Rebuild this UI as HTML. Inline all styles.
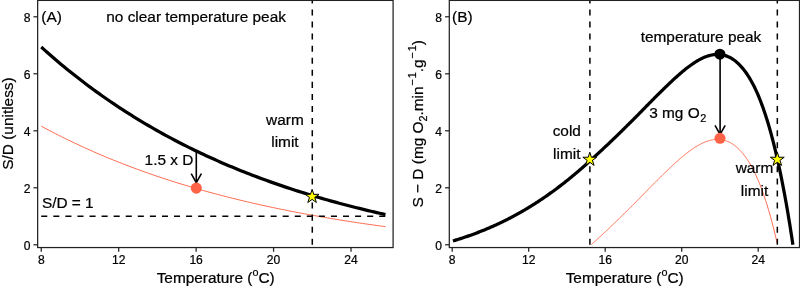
<!DOCTYPE html>
<html><head><meta charset="utf-8"><title>Figure</title>
<style>html,body{margin:0;padding:0;background:#fff;}svg{display:block;will-change:transform;}text{stroke:#000;stroke-width:0.22px;}</style>
</head><body>
<svg width="800" height="291" viewBox="0 0 800 291" font-family="'Liberation Sans', sans-serif" fill="#000">
<rect x="0" y="0" width="800" height="291" fill="#fff"/>
<g>
<path d="M41.25,126.16 L44.14,127.71 L47.04,129.26 L49.93,130.78 L52.82,132.28 L55.71,133.77 L58.61,135.24 L61.50,136.69 L64.39,138.13 L67.28,139.55 L70.18,140.95 L73.07,142.34 L75.96,143.71 L78.85,145.06 L81.75,146.40 L84.64,147.72 L87.53,149.03 L90.42,150.32 L93.32,151.60 L96.21,152.86 L99.10,154.11 L101.99,155.34 L104.89,156.56 L107.78,157.76 L110.67,158.95 L113.57,160.13 L116.46,161.29 L119.35,162.44 L122.24,163.57 L125.14,164.70 L128.03,165.80 L130.92,166.90 L133.81,167.98 L136.71,169.05 L139.60,170.11 L142.49,171.16 L145.38,172.19 L148.28,173.21 L151.17,174.22 L154.06,175.22 L156.95,176.21 L159.85,177.18 L162.74,178.14 L165.63,179.10 L168.52,180.04 L171.42,180.97 L174.31,181.89 L177.20,182.79 L180.10,183.69 L182.99,184.58 L185.88,185.45 L188.77,186.32 L191.67,187.18 L194.56,188.02 L197.45,188.86 L200.34,189.69 L203.24,190.50 L206.13,191.31 L209.02,192.11 L211.91,192.90 L214.81,193.68 L217.70,194.45 L220.59,195.21 L223.48,195.96 L226.38,196.71 L229.27,197.44 L232.16,198.17 L235.05,198.89 L237.95,199.60 L240.84,200.30 L243.73,200.99 L246.63,201.68 L249.52,202.35 L252.41,203.02 L255.30,203.68 L258.20,204.34 L261.09,204.98 L263.98,205.62 L266.87,206.25 L269.77,206.88 L272.66,207.49 L275.55,208.10 L278.44,208.70 L281.34,209.30 L284.23,209.89 L287.12,210.47 L290.01,211.04 L292.91,211.61 L295.80,212.17 L298.69,212.73 L301.59,213.27 L304.48,213.82 L307.37,214.35 L310.26,214.88 L313.16,215.40 L316.05,215.92 L318.94,216.43 L321.83,216.93 L324.73,217.43 L327.62,217.93 L330.51,218.41 L333.40,218.90 L336.30,219.37 L339.19,219.84 L342.08,220.31 L344.97,220.77 L347.87,221.22 L350.76,221.67 L353.65,222.11 L356.54,222.55 L359.44,222.99 L362.33,223.41 L365.22,223.84 L368.12,224.25 L371.01,224.67 L373.90,225.08 L376.79,225.48 L379.69,225.88 L382.58,226.27 L385.47,226.66" stroke="#ff6347" stroke-width="0.95" fill="none"/>
<path d="M41.25,216.29 L385.47,216.29" stroke="#000" stroke-width="1.51" stroke-dasharray="6.035 6.035" fill="none"/>
<path d="M312.29,244.79 L312.29,-5" stroke="#000" stroke-width="1.51" stroke-dasharray="6.035 6.035" fill="none"/>
<path d="M196.3,152 L196.3,182.6" stroke="#000" stroke-width="1.6" fill="none"/><path d="M191.20000000000002,173.6 L196.3,182.6 L201.4,173.6" stroke="#000" stroke-width="1.6" fill="none" stroke-linejoin="miter" stroke-linecap="butt"/>
<path d="M41.25,47.07 L44.14,49.66 L47.04,52.23 L49.93,54.77 L52.82,57.28 L55.71,59.76 L58.61,62.21 L61.50,64.63 L64.39,67.02 L67.28,69.39 L70.18,71.73 L73.07,74.04 L75.96,76.32 L78.85,78.58 L81.75,80.81 L84.64,83.01 L87.53,85.19 L90.42,87.34 L93.32,89.47 L96.21,91.57 L99.10,93.65 L101.99,95.71 L104.89,97.74 L107.78,99.74 L110.67,101.73 L113.57,103.69 L116.46,105.62 L119.35,107.54 L122.24,109.43 L125.14,111.30 L128.03,113.15 L130.92,114.97 L133.81,116.78 L136.71,118.56 L139.60,120.33 L142.49,122.07 L145.38,123.79 L148.28,125.50 L151.17,127.18 L154.06,128.84 L156.95,130.48 L159.85,132.11 L162.74,133.71 L165.63,135.30 L168.52,136.87 L171.42,138.42 L174.31,139.95 L177.20,141.46 L180.10,142.96 L182.99,144.44 L185.88,145.90 L188.77,147.34 L191.67,148.77 L194.56,150.18 L197.45,151.57 L200.34,152.95 L203.24,154.31 L206.13,155.66 L209.02,156.99 L211.91,158.30 L214.81,159.60 L217.70,160.89 L220.59,162.16 L223.48,163.41 L226.38,164.65 L229.27,165.88 L232.16,167.09 L235.05,168.28 L237.95,169.47 L240.84,170.64 L243.73,171.79 L246.63,172.93 L249.52,174.06 L252.41,175.18 L255.30,176.28 L258.20,177.37 L261.09,178.45 L263.98,179.51 L266.87,180.56 L269.77,181.60 L272.66,182.63 L275.55,183.64 L278.44,184.65 L281.34,185.64 L284.23,186.62 L287.12,187.59 L290.01,188.54 L292.91,189.49 L295.80,190.43 L298.69,191.35 L301.59,192.26 L304.48,193.17 L307.37,194.06 L310.26,194.94 L313.16,195.81 L316.05,196.67 L318.94,197.52 L321.83,198.36 L324.73,199.20 L327.62,200.02 L330.51,200.83 L333.40,201.63 L336.30,202.43 L339.19,203.21 L342.08,203.99 L344.97,204.75 L347.87,205.51 L350.76,206.26 L353.65,207.00 L356.54,207.73 L359.44,208.45 L362.33,209.16 L365.22,209.87 L368.12,210.56 L371.01,211.25 L373.90,211.93 L376.79,212.61 L379.69,213.27 L382.58,213.93 L385.47,214.58" stroke="#000" stroke-width="3.25" fill="none"/>
<circle cx="196.3" cy="188.1" r="5.55" fill="#ff6347"/>
<polygon points="312.10,189.30 313.74,194.34 319.04,194.34 314.75,197.46 316.39,202.51 312.10,199.39 307.81,202.51 309.45,197.46 305.16,194.34 310.46,194.34" fill="#ffff00" stroke="#000" stroke-width="1.0" stroke-linejoin="miter"/>
<text x="41.25" y="22.3" font-size="15.4">(A)</text>
<text x="196.1" y="21.9" font-size="15.4" text-anchor="middle">no clear temperature peak</text>
<text x="284.9" y="124.7" font-size="15.4" text-anchor="middle">warm</text>
<text x="284.9" y="147" font-size="15.4" text-anchor="middle">limit</text>
<text x="169" y="165" font-size="15.4" text-anchor="middle">1.5 x D</text>
<text x="41.9" y="207.6" font-size="15.4">S/D = 1</text>
</g>
<g>
<path d="M591.26,244.73 L591.94,244.11 L592.62,243.49 L593.30,242.87 L593.98,242.25 L594.67,241.62 L595.35,241.00 L596.03,240.37 L596.71,239.75 L597.39,239.12 L598.07,238.49 L598.75,237.87 L599.43,237.24 L600.12,236.61 L600.80,235.98 L601.48,235.35 L602.16,234.71 L602.84,234.08 L603.52,233.44 L604.20,232.81 L604.88,232.17 L605.57,231.53 L606.25,230.89 L606.93,230.25 L607.61,229.61 L608.29,228.97 L608.97,228.32 L609.65,227.68 L610.33,227.03 L611.02,226.38 L611.70,225.73 L612.38,225.08 L613.06,224.43 L613.74,223.77 L614.42,223.12 L615.10,222.46 L615.78,221.80 L616.47,221.14 L617.15,220.48 L617.83,219.81 L618.51,219.15 L619.19,218.48 L619.87,217.81 L620.55,217.14 L621.23,216.47 L621.92,215.80 L622.60,215.13 L623.28,214.47 L623.96,213.80 L624.64,213.13 L625.32,212.46 L626.00,211.79 L626.68,211.12 L627.37,210.45 L628.05,209.78 L628.73,209.11 L629.41,208.44 L630.09,207.76 L630.77,207.09 L631.45,206.42 L632.13,205.74 L632.82,205.06 L633.50,204.38 L634.18,203.70 L634.86,203.02 L635.54,202.33 L636.22,201.65 L636.90,200.96 L637.58,200.27 L638.27,199.58 L638.95,198.88 L639.63,198.19 L640.31,197.49 L640.99,196.79 L641.67,196.09 L642.35,195.39 L643.03,194.69 L643.72,193.99 L644.40,193.29 L645.08,192.60 L645.76,191.90 L646.44,191.20 L647.12,190.51 L647.80,189.81 L648.48,189.11 L649.17,188.42 L649.85,187.73 L650.53,187.04 L651.21,186.34 L651.89,185.65 L652.57,184.96 L653.25,184.28 L653.93,183.59 L654.62,182.90 L655.30,182.22 L655.98,181.54 L656.66,180.85 L657.34,180.17 L658.02,179.50 L658.70,178.82 L659.38,178.14 L660.07,177.47 L660.75,176.80 L661.43,176.13 L662.11,175.47 L662.79,174.80 L663.47,174.14 L664.15,173.48 L664.83,172.82 L665.52,172.17 L666.20,171.51 L666.88,170.86 L667.56,170.21 L668.24,169.56 L668.92,168.91 L669.60,168.26 L670.28,167.61 L670.97,166.97 L671.65,166.33 L672.33,165.69 L673.01,165.06 L673.69,164.43 L674.37,163.80 L675.05,163.17 L675.73,162.55 L676.42,161.93 L677.10,161.32 L677.78,160.71 L678.46,160.10 L679.14,159.50 L679.82,158.91 L680.50,158.31 L681.18,157.73 L681.87,157.15 L682.55,156.58 L683.23,156.01 L683.91,155.45 L684.59,154.89 L685.27,154.34 L685.95,153.80 L686.63,153.26 L687.32,152.74 L688.00,152.22 L688.68,151.71 L689.36,151.20 L690.04,150.71 L690.72,150.22 L691.40,149.74 L692.08,149.26 L692.77,148.79 L693.45,148.33 L694.13,147.88 L694.81,147.43 L695.49,147.00 L696.17,146.57 L696.85,146.15 L697.53,145.74 L698.22,145.35 L698.90,144.96 L699.58,144.58 L700.26,144.22 L700.94,143.86 L701.62,143.52 L702.30,143.19 L702.98,142.88 L703.67,142.57 L704.35,142.29 L705.03,142.01 L705.71,141.75 L706.39,141.50 L707.07,141.26 L707.75,141.04 L708.43,140.83 L709.12,140.63 L709.80,140.45 L710.48,140.28 L711.16,140.12 L711.84,139.98 L712.52,139.85 L713.20,139.74 L713.88,139.64 L714.57,139.56 L715.25,139.49 L715.93,139.45 L716.61,139.41 L717.29,139.40 L717.97,139.40 L718.65,139.42 L719.33,139.46 L720.02,139.51 L720.70,139.59 L721.38,139.68 L722.06,139.79 L722.74,139.92 L723.42,140.07 L724.10,140.24 L724.78,140.43 L725.47,140.63 L726.15,140.86 L726.83,141.11 L727.51,141.38 L728.19,141.67 L728.87,141.98 L729.55,142.31 L730.23,142.67 L730.92,143.04 L731.60,143.44 L732.28,143.87 L732.96,144.31 L733.64,144.78 L734.32,145.27 L735.00,145.79 L735.68,146.33 L736.37,146.89 L737.05,147.48 L737.73,148.10 L738.41,148.74 L739.09,149.40 L739.77,150.10 L740.45,150.82 L741.13,151.56 L741.82,152.33 L742.50,153.13 L743.18,153.95 L743.86,154.81 L744.54,155.69 L745.22,156.59 L745.90,157.53 L746.58,158.50 L747.27,159.50 L747.95,160.53 L748.63,161.59 L749.31,162.69 L749.99,163.82 L750.67,164.98 L751.35,166.18 L752.03,167.42 L752.72,168.69 L753.40,169.99 L754.08,171.34 L754.76,172.72 L755.44,174.14 L756.12,175.60 L756.80,177.11 L757.49,178.65 L758.17,180.24 L758.85,181.86 L759.53,183.54 L760.21,185.25 L760.89,187.01 L761.57,188.81 L762.25,190.66 L762.94,192.55 L763.62,194.48 L764.30,196.46 L764.98,198.49 L765.66,200.56 L766.34,202.68 L767.02,204.84 L767.70,207.06 L768.39,209.32 L769.07,211.63 L769.75,214.00 L770.43,216.41 L771.11,218.88 L771.79,221.40 L772.47,223.97 L773.15,226.60 L773.84,229.28 L774.52,232.02 L775.20,234.81 L775.88,237.66 L776.56,240.57 L777.24,243.53" stroke="#ff6347" stroke-width="0.95" fill="none"/>
<path d="M589.90,244.79 L589.90,-5" stroke="#000" stroke-width="1.51" stroke-dasharray="6.035 6.035" fill="none"/>
<path d="M777.33,244.79 L777.33,-5" stroke="#000" stroke-width="1.51" stroke-dasharray="6.035 6.035" fill="none"/>
<path d="M720.1,54.3 L720.1,134.4" stroke="#000" stroke-width="1.6" fill="none"/><path d="M715.0,125.4 L720.1,134.4 L725.2,125.4" stroke="#000" stroke-width="1.6" fill="none" stroke-linejoin="miter" stroke-linecap="butt"/>
<path d="M452.96,240.94 L453.65,240.74 L454.33,240.54 L455.01,240.33 L455.69,240.12 L456.37,239.91 L457.05,239.70 L457.73,239.49 L458.42,239.28 L459.10,239.06 L459.78,238.85 L460.46,238.63 L461.14,238.41 L461.82,238.19 L462.50,237.97 L463.18,237.74 L463.87,237.52 L464.55,237.29 L465.23,237.06 L465.91,236.83 L466.59,236.60 L467.27,236.36 L467.95,236.13 L468.63,235.89 L469.32,235.65 L470.00,235.41 L470.68,235.17 L471.36,234.92 L472.04,234.67 L472.72,234.43 L473.40,234.18 L474.08,233.93 L474.77,233.67 L475.45,233.42 L476.13,233.16 L476.81,232.90 L477.49,232.64 L478.17,232.38 L478.85,232.12 L479.53,231.85 L480.22,231.59 L480.90,231.32 L481.58,231.05 L482.26,230.77 L482.94,230.50 L483.62,230.22 L484.30,229.95 L484.98,229.67 L485.67,229.38 L486.35,229.10 L487.03,228.81 L487.71,228.53 L488.39,228.24 L489.07,227.95 L489.75,227.65 L490.43,227.36 L491.12,227.06 L491.80,226.76 L492.48,226.46 L493.16,226.16 L493.84,225.85 L494.52,225.55 L495.20,225.24 L495.88,224.93 L496.57,224.62 L497.25,224.30 L497.93,223.99 L498.61,223.67 L499.29,223.35 L499.97,223.02 L500.65,222.70 L501.33,222.37 L502.02,222.05 L502.70,221.71 L503.38,221.38 L504.06,221.05 L504.74,220.71 L505.42,220.37 L506.10,220.03 L506.78,219.69 L507.47,219.34 L508.15,219.00 L508.83,218.65 L509.51,218.30 L510.19,217.94 L510.87,217.59 L511.55,217.23 L512.23,216.87 L512.92,216.51 L513.60,216.14 L514.28,215.78 L514.96,215.41 L515.64,215.04 L516.32,214.67 L517.00,214.29 L517.68,213.92 L518.37,213.54 L519.05,213.16 L519.73,212.77 L520.41,212.39 L521.09,212.00 L521.77,211.61 L522.45,211.22 L523.13,210.82 L523.82,210.43 L524.50,210.03 L525.18,209.63 L525.86,209.22 L526.54,208.82 L527.22,208.41 L527.90,208.00 L528.58,207.59 L529.27,207.17 L529.95,206.75 L530.63,206.34 L531.31,205.91 L531.99,205.49 L532.67,205.06 L533.35,204.64 L534.03,204.21 L534.72,203.77 L535.40,203.34 L536.08,202.90 L536.76,202.46 L537.44,202.02 L538.12,201.57 L538.80,201.13 L539.48,200.68 L540.17,200.23 L540.85,199.77 L541.53,199.32 L542.21,198.86 L542.89,198.40 L543.57,197.94 L544.25,197.47 L544.93,197.00 L545.62,196.53 L546.30,196.06 L546.98,195.58 L547.66,195.11 L548.34,194.63 L549.02,194.15 L549.70,193.66 L550.38,193.18 L551.07,192.69 L551.75,192.20 L552.43,191.70 L553.11,191.21 L553.79,190.71 L554.47,190.21 L555.15,189.70 L555.83,189.20 L556.52,188.69 L557.20,188.18 L557.88,187.67 L558.56,187.15 L559.24,186.64 L559.92,186.12 L560.60,185.60 L561.28,185.07 L561.97,184.54 L562.65,184.02 L563.33,183.48 L564.01,182.95 L564.69,182.41 L565.37,181.88 L566.05,181.34 L566.73,180.79 L567.42,180.25 L568.10,179.70 L568.78,179.15 L569.46,178.60 L570.14,178.04 L570.82,177.49 L571.50,176.93 L572.18,176.37 L572.87,175.80 L573.55,175.24 L574.23,174.67 L574.91,174.10 L575.59,173.52 L576.27,172.95 L576.95,172.37 L577.63,171.79 L578.32,171.21 L579.00,170.62 L579.68,170.04 L580.36,169.45 L581.04,168.86 L581.72,168.26 L582.40,167.67 L583.08,167.07 L583.77,166.47 L584.45,165.87 L585.13,165.26 L585.81,164.66 L586.49,164.05 L587.17,163.44 L587.85,162.83 L588.53,162.21 L589.22,161.59 L589.90,160.98 L590.58,160.36 L591.26,159.73 L591.94,159.11 L592.62,158.49 L593.30,157.87 L593.98,157.25 L594.67,156.62 L595.35,156.00 L596.03,155.37 L596.71,154.75 L597.39,154.12 L598.07,153.49 L598.75,152.87 L599.43,152.24 L600.12,151.61 L600.80,150.98 L601.48,150.35 L602.16,149.71 L602.84,149.08 L603.52,148.44 L604.20,147.81 L604.88,147.17 L605.57,146.53 L606.25,145.89 L606.93,145.25 L607.61,144.61 L608.29,143.97 L608.97,143.32 L609.65,142.68 L610.33,142.03 L611.02,141.38 L611.70,140.73 L612.38,140.08 L613.06,139.43 L613.74,138.77 L614.42,138.12 L615.10,137.46 L615.78,136.80 L616.47,136.14 L617.15,135.48 L617.83,134.81 L618.51,134.15 L619.19,133.48 L619.87,132.81 L620.55,132.14 L621.23,131.47 L621.92,130.80 L622.60,130.13 L623.28,129.47 L623.96,128.80 L624.64,128.13 L625.32,127.46 L626.00,126.79 L626.68,126.12 L627.37,125.45 L628.05,124.78 L628.73,124.11 L629.41,123.44 L630.09,122.76 L630.77,122.09 L631.45,121.42 L632.13,120.74 L632.82,120.06 L633.50,119.38 L634.18,118.70 L634.86,118.02 L635.54,117.33 L636.22,116.65 L636.90,115.96 L637.58,115.27 L638.27,114.58 L638.95,113.88 L639.63,113.19 L640.31,112.49 L640.99,111.79 L641.67,111.09 L642.35,110.39 L643.03,109.69 L643.72,108.99 L644.40,108.29 L645.08,107.60 L645.76,106.90 L646.44,106.20 L647.12,105.51 L647.80,104.81 L648.48,104.11 L649.17,103.42 L649.85,102.73 L650.53,102.04 L651.21,101.34 L651.89,100.65 L652.57,99.96 L653.25,99.28 L653.93,98.59 L654.62,97.90 L655.30,97.22 L655.98,96.54 L656.66,95.85 L657.34,95.17 L658.02,94.50 L658.70,93.82 L659.38,93.14 L660.07,92.47 L660.75,91.80 L661.43,91.13 L662.11,90.47 L662.79,89.80 L663.47,89.14 L664.15,88.48 L664.83,87.82 L665.52,87.17 L666.20,86.51 L666.88,85.86 L667.56,85.21 L668.24,84.56 L668.92,83.91 L669.60,83.26 L670.28,82.61 L670.97,81.97 L671.65,81.33 L672.33,80.69 L673.01,80.06 L673.69,79.43 L674.37,78.80 L675.05,78.17 L675.73,77.55 L676.42,76.93 L677.10,76.32 L677.78,75.71 L678.46,75.10 L679.14,74.50 L679.82,73.91 L680.50,73.31 L681.18,72.73 L681.87,72.15 L682.55,71.58 L683.23,71.01 L683.91,70.45 L684.59,69.89 L685.27,69.34 L685.95,68.80 L686.63,68.26 L687.32,67.74 L688.00,67.22 L688.68,66.71 L689.36,66.20 L690.04,65.71 L690.72,65.22 L691.40,64.74 L692.08,64.26 L692.77,63.79 L693.45,63.33 L694.13,62.88 L694.81,62.43 L695.49,62.00 L696.17,61.57 L696.85,61.15 L697.53,60.74 L698.22,60.35 L698.90,59.96 L699.58,59.58 L700.26,59.22 L700.94,58.86 L701.62,58.52 L702.30,58.19 L702.98,57.88 L703.67,57.57 L704.35,57.29 L705.03,57.01 L705.71,56.75 L706.39,56.50 L707.07,56.26 L707.75,56.04 L708.43,55.83 L709.12,55.63 L709.80,55.45 L710.48,55.28 L711.16,55.12 L711.84,54.98 L712.52,54.85 L713.20,54.74 L713.88,54.64 L714.57,54.56 L715.25,54.49 L715.93,54.45 L716.61,54.41 L717.29,54.40 L717.97,54.40 L718.65,54.42 L719.33,54.46 L720.02,54.51 L720.70,54.59 L721.38,54.68 L722.06,54.79 L722.74,54.92 L723.42,55.07 L724.10,55.24 L724.78,55.43 L725.47,55.63 L726.15,55.86 L726.83,56.11 L727.51,56.38 L728.19,56.67 L728.87,56.98 L729.55,57.31 L730.23,57.67 L730.92,58.04 L731.60,58.44 L732.28,58.87 L732.96,59.31 L733.64,59.78 L734.32,60.27 L735.00,60.79 L735.68,61.33 L736.37,61.89 L737.05,62.48 L737.73,63.10 L738.41,63.74 L739.09,64.40 L739.77,65.10 L740.45,65.82 L741.13,66.56 L741.82,67.33 L742.50,68.13 L743.18,68.95 L743.86,69.81 L744.54,70.69 L745.22,71.59 L745.90,72.53 L746.58,73.50 L747.27,74.50 L747.95,75.53 L748.63,76.59 L749.31,77.69 L749.99,78.82 L750.67,79.98 L751.35,81.18 L752.03,82.42 L752.72,83.69 L753.40,84.99 L754.08,86.34 L754.76,87.72 L755.44,89.14 L756.12,90.60 L756.80,92.11 L757.49,93.65 L758.17,95.24 L758.85,96.86 L759.53,98.54 L760.21,100.25 L760.89,102.01 L761.57,103.81 L762.25,105.66 L762.94,107.55 L763.62,109.48 L764.30,111.46 L764.98,113.49 L765.66,115.56 L766.34,117.68 L767.02,119.84 L767.70,122.06 L768.39,124.32 L769.07,126.63 L769.75,129.00 L770.43,131.41 L771.11,133.88 L771.79,136.40 L772.47,138.97 L773.15,141.60 L773.84,144.28 L774.52,147.02 L775.20,149.81 L775.88,152.66 L776.56,155.57 L777.24,158.53 L777.92,161.56 L778.60,164.65 L779.29,167.79 L779.97,171.00 L780.65,174.27 L781.33,177.60 L782.01,181.00 L782.69,184.46 L783.37,187.99 L784.05,191.58 L784.74,195.25 L785.42,198.98 L786.10,202.78 L786.78,206.65 L787.46,210.59 L788.14,214.60 L788.82,218.69 L789.50,222.85 L790.19,227.08 L790.87,231.39 L791.55,235.78 L792.23,240.25 L792.91,244.79" stroke="#000" stroke-width="3.25" fill="none"/>
<circle cx="719.9" cy="54.2" r="5.55" fill="#000"/>
<circle cx="720" cy="138.3" r="5.55" fill="#ff6347"/>
<polygon points="589.80,152.20 591.44,157.24 596.74,157.24 592.45,160.36 594.09,165.41 589.80,162.29 585.51,165.41 587.15,160.36 582.86,157.24 588.16,157.24" fill="#ffff00" stroke="#000" stroke-width="1.0" stroke-linejoin="miter"/>
<polygon points="777.30,152.20 778.94,157.24 784.24,157.24 779.95,160.36 781.59,165.41 777.30,162.29 773.01,165.41 774.65,160.36 770.36,157.24 775.66,157.24" fill="#ffff00" stroke="#000" stroke-width="1.0" stroke-linejoin="miter"/>
<text x="452.0" y="22.3" font-size="15.4">(B)</text>
<text x="701" y="42.1" font-size="15.4" text-anchor="middle">temperature peak</text>
<text x="566.8" y="136.4" font-size="15.4" text-anchor="middle">cold</text>
<text x="566.8" y="158.5" font-size="15.4" text-anchor="middle">limit</text>
<text x="754.5" y="173.4" font-size="15.4" text-anchor="middle">warm</text>
<text x="754.5" y="195.5" font-size="15.4" text-anchor="middle">limit</text>
<text x="649.2" y="118.2" font-size="15.4">3 mg O<tspan font-size="10.8" dy="3.6" dx="0.6">2</tspan></text>
</g>
<rect x="37.65" y="0.4" width="355.45000000000005" height="247.15" fill="none" stroke="#222" stroke-width="1.25"/>
<path d="M41.25,247.55 L41.25,251.75" stroke="#222" stroke-width="1.25"/>
<text x="41.25" y="263.8" font-size="12.1" text-anchor="middle">8</text>
<path d="M118.69,247.55 L118.69,251.75" stroke="#222" stroke-width="1.25"/>
<text x="118.69" y="263.8" font-size="12.1" text-anchor="middle">12</text>
<path d="M196.13,247.55 L196.13,251.75" stroke="#222" stroke-width="1.25"/>
<text x="196.13" y="263.8" font-size="12.1" text-anchor="middle">16</text>
<path d="M273.57,247.55 L273.57,251.75" stroke="#222" stroke-width="1.25"/>
<text x="273.57" y="263.8" font-size="12.1" text-anchor="middle">20</text>
<path d="M351.01,247.55 L351.01,251.75" stroke="#222" stroke-width="1.25"/>
<text x="351.01" y="263.8" font-size="12.1" text-anchor="middle">24</text>
<path d="M37.65,244.79 L33.449999999999996,244.79" stroke="#222" stroke-width="1.25"/>
<text x="30.45" y="249.54" font-size="12.1" text-anchor="end">0</text>
<path d="M37.65,187.79 L33.449999999999996,187.79" stroke="#222" stroke-width="1.25"/>
<text x="30.45" y="192.54" font-size="12.1" text-anchor="end">2</text>
<path d="M37.65,130.79 L33.449999999999996,130.79" stroke="#222" stroke-width="1.25"/>
<text x="30.45" y="135.54" font-size="12.1" text-anchor="end">4</text>
<path d="M37.65,73.79 L33.449999999999996,73.79" stroke="#222" stroke-width="1.25"/>
<text x="30.45" y="78.54" font-size="12.1" text-anchor="end">6</text>
<path d="M37.65,16.79 L33.449999999999996,16.79" stroke="#222" stroke-width="1.25"/>
<text x="30.45" y="21.54" font-size="12.1" text-anchor="end">8</text>
<text x="215.68" y="283" font-size="15.4" text-anchor="middle">Temperature (<tspan font-size="10.8" dy="-7">o</tspan><tspan dy="7">C)</tspan></text>
<rect x="449.3" y="0.4" width="350.2" height="247.15" fill="none" stroke="#222" stroke-width="1.25"/>
<path d="M452.20,247.55 L452.20,251.75" stroke="#222" stroke-width="1.25"/>
<text x="452.20" y="263.8" font-size="12.1" text-anchor="middle">8</text>
<path d="M528.70,247.55 L528.70,251.75" stroke="#222" stroke-width="1.25"/>
<text x="528.70" y="263.8" font-size="12.1" text-anchor="middle">12</text>
<path d="M605.20,247.55 L605.20,251.75" stroke="#222" stroke-width="1.25"/>
<text x="605.20" y="263.8" font-size="12.1" text-anchor="middle">16</text>
<path d="M681.70,247.55 L681.70,251.75" stroke="#222" stroke-width="1.25"/>
<text x="681.70" y="263.8" font-size="12.1" text-anchor="middle">20</text>
<path d="M758.20,247.55 L758.20,251.75" stroke="#222" stroke-width="1.25"/>
<text x="758.20" y="263.8" font-size="12.1" text-anchor="middle">24</text>
<path d="M449.3,244.79 L445.1,244.79" stroke="#222" stroke-width="1.25"/>
<text x="442.10" y="249.54" font-size="12.1" text-anchor="end">0</text>
<path d="M449.3,187.79 L445.1,187.79" stroke="#222" stroke-width="1.25"/>
<text x="442.10" y="192.54" font-size="12.1" text-anchor="end">2</text>
<path d="M449.3,130.79 L445.1,130.79" stroke="#222" stroke-width="1.25"/>
<text x="442.10" y="135.54" font-size="12.1" text-anchor="end">4</text>
<path d="M449.3,73.79 L445.1,73.79" stroke="#222" stroke-width="1.25"/>
<text x="442.10" y="78.54" font-size="12.1" text-anchor="end">6</text>
<path d="M449.3,16.79 L445.1,16.79" stroke="#222" stroke-width="1.25"/>
<text x="442.10" y="21.54" font-size="12.1" text-anchor="end">8</text>
<text x="624.70" y="283" font-size="15.4" text-anchor="middle">Temperature (<tspan font-size="10.8" dy="-7">o</tspan><tspan dy="7">C)</tspan></text>
<text transform="translate(12.9,123.5) rotate(-90)" font-size="15.4" text-anchor="middle">S/D (unitless)</text>
<text transform="translate(423.1,123.8) rotate(-90)" font-size="15.4" text-anchor="middle">S − D (mg O<tspan font-size="10.8" dy="3.5">2</tspan><tspan dy="-3.5">.min</tspan><tspan font-size="10.8" dy="-7" dx="0.7">−<tspan dx="1.1">1</tspan></tspan><tspan dy="7">.g</tspan><tspan font-size="10.8" dy="-7" dx="0.7">−<tspan dx="1.1">1</tspan></tspan><tspan dy="7">)</tspan></text>
</svg>
</body></html>
